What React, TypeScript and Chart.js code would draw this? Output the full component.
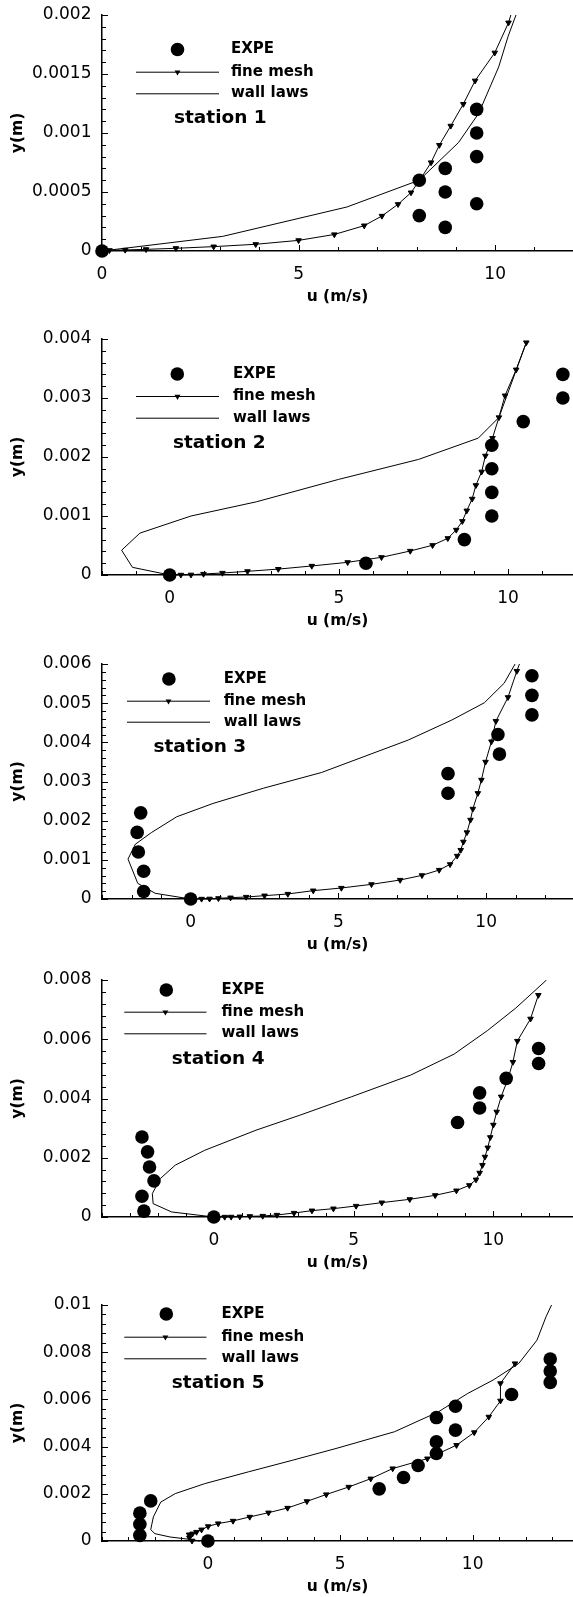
import React, { useEffect, useRef } from 'react';
import { Chart, registerables } from 'chart.js';

Chart.register(...registerables);

// ---------- tick labels ----------
const X_TICK_LABELS = ['0', '5', '10'];
const Y_TICK_LABELS_1 = ['0', '0.0005', '0.001', '0.0015', '0.002'];
const Y_TICK_LABELS_2 = ['0', '0.001', '0.002', '0.003', '0.004'];
const Y_TICK_LABELS_3 = ['0', '0.001', '0.002', '0.003', '0.004', '0.005', '0.006'];
const Y_TICK_LABELS_4 = ['0', '0.002', '0.004', '0.006', '0.008'];
const Y_TICK_LABELS_5 = ['0', '0.002', '0.004', '0.006', '0.008', '0.01'];

const SERIES_NAMES = ['EXPE', 'fine mesh', 'wall laws'];
const STATIONS = ['station 1', 'station 2', 'station 3', 'station 4', 'station 5'];

// ---------- station 1 ----------
const EXPE_U_1 = [0, 8.07, 8.07, 8.73, 8.73, 8.73, 9.53, 9.53, 9.53, 9.53];
const EXPE_Y_1 = [0, 0.0006, 0.0003, 0.0007, 0.0005, 0.0002, 0.0012, 0.001, 0.0008, 0.0004];
const FINE_U_1 = [0, 0.19, 0.59, 1.12, 1.88, 2.84, 3.91, 5.0, 5.91, 6.67, 7.12, 7.53, 7.86, 8.12, 8.37, 8.58, 8.87, 9.19, 9.49, 9.99, 10.34, 10.6];
const FINE_Y_1 = [0, 0.000006, 0.000009, 0.000014, 0.000023, 0.000037, 0.000057, 0.00009, 0.00014, 0.000215, 0.000297, 0.000396, 0.000495, 0.00062, 0.00075, 0.000897, 0.00106, 0.001245, 0.001443, 0.00168, 0.001935, 0.00222];
const WALL_U_1 = [0, 3.07, 6.23, 8.07, 9.07, 9.58, 10.09, 10.33, 10.53, 10.6];
const WALL_Y_1 = [0, 0.000124, 0.000373, 0.0006, 0.00092, 0.001166, 0.00156, 0.00182, 0.002, 0.00215];

// ---------- station 2 ----------
const EXPE_U_2 = [0, 5.8, 8.71, 9.52, 9.52, 9.52, 9.52, 10.45, 11.62, 11.62];
const EXPE_Y_2 = [0, 0.0002, 0.0006, 0.001, 0.0014, 0.0018, 0.0022, 0.0026, 0.003, 0.0034];
const FINE_U_2 = [0, 0.33, 0.63, 1.0, 1.56, 2.3, 3.21, 4.2, 5.26, 6.26, 7.11, 7.77, 8.22, 8.47, 8.65, 8.78, 8.94, 9.05, 9.22, 9.33, 9.54, 9.73, 9.91, 10.24, 10.54];
const FINE_Y_2 = [0, 0.000002, 0.000004, 0.000017, 0.000034, 0.000062, 0.0001, 0.000153, 0.000215, 0.0003, 0.000407, 0.000504, 0.000622, 0.000764, 0.000911, 0.00109, 0.00129, 0.00152, 0.00175, 0.00202, 0.00232, 0.00267, 0.00304, 0.00348, 0.00394];
const WALL_U_2 = [0, -1.1, -1.42, -0.88, 0.63, 2.56, 4.99, 7.36, 9.12, 9.73, 10.54];
const WALL_Y_2 = [0, 0.00013, 0.00042, 0.00071, 0.001, 0.00124, 0.00162, 0.00196, 0.00232, 0.00267, 0.00394];

// ---------- station 3 ----------
const EXPE_U_3 = [0, -1.59, -1.59, -1.77, -1.81, -1.69, 8.71, 8.71, 10.45, 10.4, 11.55, 11.55, 11.55];
const EXPE_Y_3 = [0, 0.00019, 0.00071, 0.0012, 0.0017, 0.0022, 0.0027, 0.0032, 0.0037, 0.0042, 0.0047, 0.0052, 0.0057];
const FINE_U_3 = [0, 0.37, 0.64, 0.94, 1.35, 1.88, 2.5, 3.29, 4.15, 5.1, 6.12, 7.09, 7.83, 8.41, 8.78, 9.02, 9.14, 9.23, 9.35, 9.47, 9.55, 9.72, 9.84, 9.98, 10.18, 10.33, 10.74, 11.04, 11.2];
const FINE_Y_3 = [0, 0.000002, 0.000005, 0.000017, 0.000034, 0.000051, 0.000085, 0.000128, 0.000213, 0.000281, 0.000374, 0.000485, 0.000604, 0.00074, 0.000885, 0.0011, 0.00125, 0.00146, 0.0017, 0.00202, 0.0023, 0.0027, 0.00304, 0.0035, 0.00402, 0.00454, 0.00515, 0.00582, 0.00615];
const WALL_U_3 = [0, -1.2, -1.79, -2.12, -1.87, -1.32, -0.47, 0.76, 2.47, 4.43, 7.37, 8.84, 9.94, 10.61, 10.98, 11.1];
const WALL_Y_3 = [0, 0.000145, 0.0004, 0.00102, 0.0014, 0.0017, 0.0021, 0.00244, 0.00283, 0.00323, 0.00406, 0.00457, 0.00501, 0.00551, 0.006, 0.0062];

// ---------- station 4 ----------
const EXPE_U_4 = [0, -2.5, -2.57, -2.14, -2.3, -2.37, -2.57, 8.72, 9.51, 9.51, 10.46, 11.62, 11.62];
const EXPE_Y_4 = [0, 0.0002, 0.0007, 0.00122, 0.00169, 0.0022, 0.0027, 0.00319, 0.00368, 0.00419, 0.00468, 0.00518, 0.00569];
const FINE_U_4 = [0, 0.39, 0.62, 0.93, 1.29, 1.75, 2.26, 2.87, 3.51, 4.28, 5.09, 6.01, 7.01, 7.92, 8.68, 9.14, 9.38, 9.51, 9.61, 9.7, 9.8, 9.89, 10.0, 10.12, 10.28, 10.53, 10.7, 10.86, 11.33, 11.61];
const FINE_Y_4 = [0, 0.000002, 0.000004, 0.000011, 0.000023, 0.000034, 0.000068, 0.000135, 0.000214, 0.000282, 0.000372, 0.000485, 0.000597, 0.000732, 0.00089, 0.00107, 0.00126, 0.00149, 0.00175, 0.00203, 0.00234, 0.00269, 0.00311, 0.00355, 0.00406, 0.00468, 0.00523, 0.00594, 0.00669, 0.00749];
const WALL_U_4 = [0, -1.51, -2.17, -2.2, -1.91, -1.38, -0.33, 1.51, 3.09, 4.93, 7.04, 8.6, 9.8, 10.8, 11.88, 12.0];
const WALL_Y_4 = [0, 0.00017, 0.00045, 0.00079, 0.0013, 0.00175, 0.00225, 0.00293, 0.00344, 0.00406, 0.00479, 0.0055, 0.0063, 0.00705, 0.00798, 0.0081];

// ---------- station 5 ----------
const EXPE_U_5 = [0, -2.57, -2.57, -2.57, -2.16, 6.47, 7.39, 7.94, 8.63, 8.63, 8.63, 9.35, 9.35, 11.47, 12.93, 12.93, 12.93];
const EXPE_Y_5 = [0, 0.00024, 0.00071, 0.00118, 0.0017, 0.00221, 0.00269, 0.0032, 0.00371, 0.0042, 0.00523, 0.0047, 0.00571, 0.00621, 0.00672, 0.0072, 0.00771];
const FINE_U_5 = [-0.6, -0.7, -0.71, -0.58, -0.43, -0.24, 0.01, 0.39, 0.95, 1.58, 2.29, 3.01, 3.74, 4.47, 5.32, 6.15, 6.98, 8.29, 9.39, 10.06, 10.61, 11.05, 11.05, 11.6];
const FINE_Y_5 = [0.00001, 0.00014, 0.00027, 0.00031, 0.00038, 0.00048, 0.00062, 0.00074, 0.00085, 0.00102, 0.0012, 0.0014, 0.00168, 0.00197, 0.00229, 0.00264, 0.00307, 0.00349, 0.00406, 0.0046, 0.00526, 0.00594, 0.00668, 0.00752];
const WALL_U_5 = [-0.3, -0.62, -1.43, -2.0, -2.16, -2.06, -1.78, -1.23, -0.12, 1.53, 3.19, 4.84, 7.05, 8.7, 9.81, 10.77, 11.74, 12.43, 12.77, 12.98, 13.05];
const WALL_Y_5 = [0, 0.00006, 0.00017, 0.00031, 0.00048, 0.00102, 0.00165, 0.00201, 0.00243, 0.00293, 0.00342, 0.00392, 0.00463, 0.00547, 0.00625, 0.00682, 0.00752, 0.00851, 0.0095, 0.01, 0.0102];

// ---------- panel layout (positions / styles) ----------
type Legend = { markX: number; lineX1: number; lineX2: number; textX: number; rows: number[]; stationX: number; stationY: number; station: string };
type Panel = {
  expe: [number[], number[]]; fine: [number[], number[]]; wall: [number[], number[]];
  xMin: number; xMax: number; yMax: number; yStep: number; yLabels: string[];
  chartTop: number; chartH: number; legend: Legend;
};

const PANELS: Panel[] = [
  {
    expe: [EXPE_U_1, EXPE_Y_1], fine: [FINE_U_1, FINE_Y_1], wall: [WALL_U_1, WALL_Y_1],
    xMin: 0, xMax: 11.98, yMax: 0.002, yStep: 0.0001, yLabels: Y_TICK_LABELS_1,
    chartTop: 15, chartH: 236,
    legend: { markX: 177.5, lineX1: 136, lineX2: 219, textX: 231, rows: [49.5, 71.7, 93.3], stationX: 174, stationY: 118, station: STATIONS[0] },
  },
  {
    expe: [EXPE_U_2, EXPE_Y_2], fine: [FINE_U_2, FINE_Y_2], wall: [WALL_U_2, WALL_Y_2],
    xMin: -2, xMax: 11.92, yMax: 0.004, yStep: 0.0002, yLabels: Y_TICK_LABELS_2,
    chartTop: 339, chartH: 236,
    legend: { markX: 177.3, lineX1: 136, lineX2: 219, textX: 233, rows: [50, 72, 93.7], stationX: 173, stationY: 119, station: STATIONS[1] },
  },
  {
    expe: [EXPE_U_3, EXPE_Y_3], fine: [FINE_U_3, FINE_Y_3], wall: [WALL_U_3, WALL_Y_3],
    xMin: -3, xMax: 12.94, yMax: 0.006, yStep: 0.0002, yLabels: Y_TICK_LABELS_3,
    chartTop: 664, chartH: 235,
    legend: { markX: 168.9, lineX1: 127, lineX2: 210, textX: 223.7, rows: [30, 51.7, 72.7], stationX: 153.5, stationY: 98.5, station: STATIONS[2] },
  },
  {
    expe: [EXPE_U_4, EXPE_Y_4], fine: [FINE_U_4, FINE_Y_4], wall: [WALL_U_4, WALL_Y_4],
    xMin: -4, xMax: 12.85, yMax: 0.008, yStep: 0.0004, yLabels: Y_TICK_LABELS_4,
    chartTop: 980, chartH: 237,
    legend: { markX: 166.3, lineX1: 124.3, lineX2: 206.5, textX: 221.5, rows: [25, 46.7, 68.3], stationX: 171.8, stationY: 94.5, station: STATIONS[3] },
  },
  {
    expe: [EXPE_U_5, EXPE_Y_5], fine: [FINE_U_5, FINE_Y_5], wall: [WALL_U_5, WALL_Y_5],
    xMin: -4, xMax: 13.79, yMax: 0.01, yStep: 0.0004, yLabels: Y_TICK_LABELS_5,
    chartTop: 1305, chartH: 236,
    legend: { markX: 166.3, lineX1: 124.3, lineX2: 206.5, textX: 221.5, rows: [24, 46.7, 68.3], stationX: 171.8, stationY: 93.5, station: STATIONS[4] },
  },
];

const PAD_TOP = 15;
const X_AXIS_H = 55;
const FONT = 'DejaVu Sans';

const toPoints = (u: number[], y: number[]) => u.map((v, i) => ({ x: v, y: y[i] }));

// inward tick marks drawn from the scales' own ticks
const innerTicksPlugin = {
  id: 'innerTicks',
  beforeDatasetsDraw(chart: any) {
    const { ctx, chartArea, scales } = chart;
    ctx.save();
    ctx.strokeStyle = '#000';
    ctx.lineWidth = 1;
    const xs = scales.x;
    xs.ticks.forEach((t: any) => {
      const px = Math.round(xs.getPixelForValue(t.value)) + 0.5;
      const len = t.label ? 6 : 4;
      ctx.beginPath();
      ctx.moveTo(px, chartArea.bottom);
      ctx.lineTo(px, chartArea.bottom - len);
      ctx.stroke();
    });
    const ys = scales.y;
    ys.ticks.forEach((t: any) => {
      const py = Math.round(ys.getPixelForValue(t.value)) + 0.5;
      const len = t.label ? 6 : 4;
      ctx.beginPath();
      ctx.moveTo(chartArea.left, py);
      ctx.lineTo(chartArea.left + len, py);
      ctx.stroke();
    });
    ctx.restore();
  },
};

// in-plot legend + station caption
const stationLegendPlugin = {
  id: 'stationLegend',
  afterDraw(chart: any, _args: any, opts: any) {
    if (!opts || !opts.rows) return;
    const { ctx } = chart;
    const names = chart.data.datasets.map((d: any) => d.label);
    const rows = opts.rows;
    ctx.save();
    ctx.fillStyle = '#000';
    ctx.strokeStyle = '#000';
    ctx.lineWidth = 1;
    ctx.beginPath();
    ctx.arc(opts.markX, rows[0], 6.8, 0, Math.PI * 2);
    ctx.fill();
    for (let i = 1; i < 3; i++) {
      ctx.beginPath();
      ctx.moveTo(opts.lineX1, rows[i] + 0.5);
      ctx.lineTo(opts.lineX2, rows[i] + 0.5);
      ctx.stroke();
    }
    const cx = (opts.lineX1 + opts.lineX2) / 2;
    const cy = rows[1] + 0.5;
    const r = 3.4;
    ctx.beginPath();
    ctx.moveTo(cx, cy + r);
    ctx.lineTo(cx - r * 0.866, cy - r * 0.5);
    ctx.lineTo(cx + r * 0.866, cy - r * 0.5);
    ctx.closePath();
    ctx.fill();
    ctx.font = `bold 15px "${FONT}"`;
    ctx.textBaseline = 'middle';
    ctx.textAlign = 'left';
    for (let i = 0; i < 3; i++) ctx.fillText(names[i], opts.textX, rows[i]);
    ctx.font = `bold 18.5px "${FONT}"`;
    ctx.fillText(opts.station, opts.stationX, opts.stationY);
    ctx.restore();
  },
};

function PanelChart({ p }: { p: Panel }) {
  const ref = useRef<HTMLCanvasElement | null>(null);
  const canvasTop = p.chartTop - PAD_TOP;
  const H = PAD_TOP + p.chartH + X_AXIS_H;

  useEffect(() => {
    if (!ref.current) return;
    const yVals = p.yLabels.map((s) => parseFloat(s));
    const xVals = X_TICK_LABELS.map((s) => parseFloat(s));
    const chart = new Chart(ref.current, {
      type: 'scatter',
      data: {
        datasets: [
          {
            label: SERIES_NAMES[0],
            data: toPoints(p.expe[0], p.expe[1]),
            showLine: false,
            pointRadius: 6.8,
            pointBackgroundColor: '#000',
            pointBorderColor: '#000',
            pointBorderWidth: 0,
            clip: false as any,
          },
          {
            label: SERIES_NAMES[1],
            data: toPoints(p.fine[0], p.fine[1]),
            showLine: true,
            borderColor: '#000',
            borderWidth: 1,
            pointStyle: 'triangle',
            pointRotation: 180,
            pointRadius: 3.2,
            pointBorderWidth: 1,
            pointBackgroundColor: '#000',
            pointBorderColor: '#000',
            tension: 0,
            clip: { left: 12, top: 0, right: 0, bottom: 8 } as any,
          },
          {
            label: SERIES_NAMES[2],
            data: toPoints(p.wall[0], p.wall[1]),
            showLine: true,
            borderColor: '#000',
            borderWidth: 1,
            pointRadius: 0,
            tension: 0,
            clip: { left: 12, top: 0, right: 0, bottom: 8 } as any,
          },
        ],
      },
      options: {
        animation: false,
        responsive: false,
        maintainAspectRatio: false,
        devicePixelRatio: 1,
        events: [],
        layout: { autoPadding: false, padding: { top: PAD_TOP, left: 0, right: 0, bottom: 0 } },
        plugins: {
          legend: { display: false },
          tooltip: { enabled: false },
          stationLegend: p.legend as any,
        } as any,
        scales: {
          x: {
            type: 'linear',
            position: 'bottom',
            min: p.xMin,
            max: p.xMax,
            bounds: 'data',
            grid: { display: false, drawTicks: false },
            border: { display: true, color: '#000', width: 1.5 },
            ticks: {
              stepSize: 1,
              autoSkip: false,
              includeBounds: false,
              maxRotation: 0,
              padding: 13,
              color: '#000',
              font: { family: FONT, size: 17 },
              callback: (v: any) => {
                const n = Number(v);
                const i = xVals.findIndex((a) => Math.abs(a - n) < 1e-6);
                return i >= 0 ? X_TICK_LABELS[i] : '';
              },
            },
            title: {
              display: true,
              text: 'u (m/s)',
              color: '#000',
              font: { family: FONT, size: 15.5, weight: 'bold', lineHeight: 1 },
              padding: { top: 0, bottom: 1 },
            },
            afterFit: (s: any) => {
              s.height = X_AXIS_H;
              s.paddingLeft = 0;
              s.paddingRight = 0;
            },
          },
          y: {
            type: 'linear',
            position: 'left',
            min: 0,
            max: p.yMax,
            bounds: 'data',
            grid: { display: false, drawTicks: false },
            border: { display: true, color: '#000', width: 1.5 },
            ticks: {
              stepSize: p.yStep,
              autoSkip: false,
              includeBounds: false,
              padding: 10.5,
              color: '#000',
              font: { family: FONT, size: 17 },
              callback: (v: any) => {
                const n = Number(v);
                const i = yVals.findIndex((a) => Math.abs(a - n) < p.yStep * 1e-3);
                return i >= 0 ? p.yLabels[i] : '';
              },
            },
            title: {
              display: true,
              text: 'y(m)',
              color: '#000',
              font: { family: FONT, size: 15.5, weight: 'bold', lineHeight: 1 },
              padding: { top: 10, bottom: 0 },
            },
            afterFit: (s: any) => {
              s.width = 102;
              s.paddingTop = 0;
              s.paddingBottom = 0;
            },
          },
        },
      } as any,
      plugins: [innerTicksPlugin, stationLegendPlugin],
    });
    return () => chart.destroy();
  }, []);

  return (
    <canvas
      ref={ref}
      width={573}
      height={H}
      style={{ position: 'absolute', left: 0, top: canvasTop, width: 573, height: H, display: 'block' }}
    />
  );
}

export default function App() {
  return (
    <div style={{ position: 'absolute', left: 0, top: 0, width: 573, height: 1597, overflow: 'hidden', background: '#fff' }}>
      {PANELS.map((p, i) => (
        <PanelChart key={i} p={p} />
      ))}
    </div>
  );
}
